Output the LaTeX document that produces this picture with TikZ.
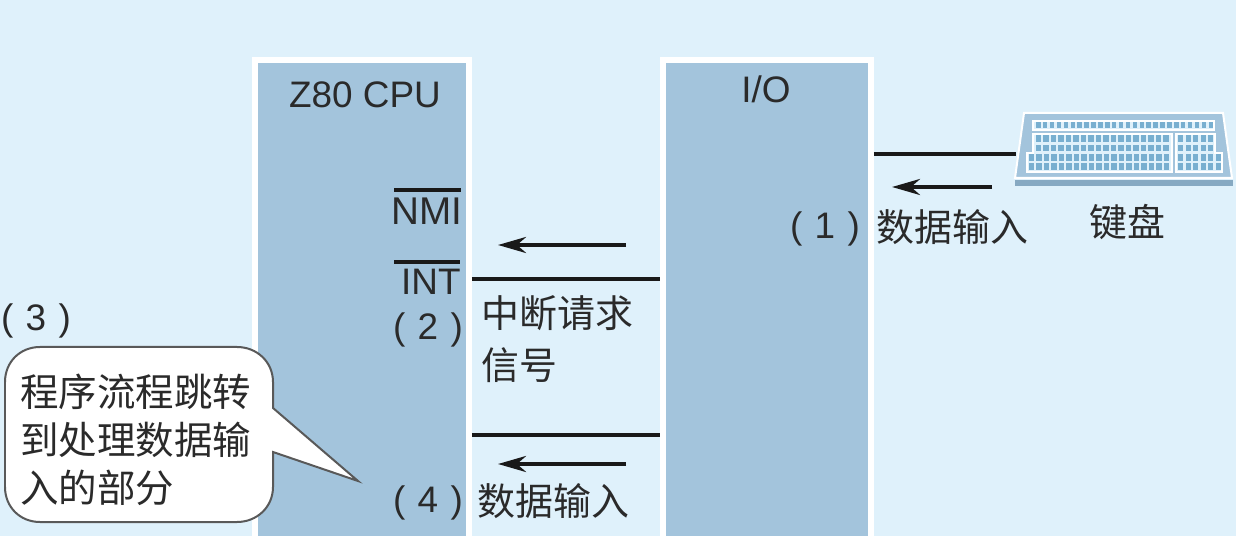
\documentclass[tikz,border=0pt]{standalone}
\usepackage{fontspec}
\setmainfont{Liberation Sans}
\newfontfamily\cjk{Noto Sans CJK SC}
\usetikzlibrary{arrows.meta}
\definecolor{pagebg}{HTML}{DFF1FB}
\definecolor{blockblue}{HTML}{A3C4DC}
\definecolor{keyblue}{HTML}{78AFD0}
\definecolor{basedark}{HTML}{86A9C2}
\definecolor{inkdark}{HTML}{2A2A2A}
\newcommand{\lblsize}{\fontsize{21}{27.3}\selectfont}
\newcommand{\cjksize}{\fontsize{21.6}{27.3}\selectfont}
\newcommand{\jumpsize}{\fontsize{21.9}{27.3}\selectfont}
\tikzset{
	block/.style={draw=white,line width=0.12cm,fill=blockblue,minimum height=9.9cm,inner sep=0pt},
	sigline/.style={line width=0.08cm,draw=black!90},
	sigarrow/.style={line width=0.085cm,draw=black!90,-{Stealth[length=0.56cm,width=0.32cm]}},
	pinbar/.style={line width=0.08cm,draw=black!90},
	lbl/.style={font=\lblsize,text=inkdark,inner sep=0pt},
	cjklbl/.style={font=\cjksize\cjk,text=inkdark,inner sep=0pt,align=left},
	keycap/.style={fill=keyblue,draw=none}
}
\begin{document}
\begin{tikzpicture}[x=0.02cm,y=-0.02cm]
	\useasboundingbox (0,0) rectangle (1236,536);
	\clip (0,0) rectangle (1236,536);
	\fill[pagebg] (0,0) rectangle (1236,536);

	% Blocks
	\node[block,minimum width=4.28cm,anchor=north] (cpu) at (362,57) {};
	\node[block,minimum width=4.16cm,anchor=north] (io) at (767,57) {};
	\node[lbl] (cpuname) at (365,95) {Z80 CPU};
	\node[lbl] (ioname) at (766,89) {I/O};

	% Keyboard
	\fill[blockblue,draw=white,line width=0.04cm] (1024,113) -- (1223,113) -- (1232,178) -- (1015,178) -- cycle;
	\fill[basedark] (1015,180) rectangle (1233,186);
	\draw[white,fill=pagebg,line width=0.03cm] (1033,121) rectangle (1214,130);
	\draw[white,fill=pagebg,line width=0.03cm] (1033,134) -- (1172,134) -- (1172,172) -- (1027,172) -- (1027,153) -- (1033,153) -- cycle;
	\draw[white,fill=pagebg,line width=0.03cm] (1176,134) -- (1215,134) -- (1215,153) -- (1222,153) -- (1222,172) -- (1176,172) -- cycle;
	\foreach \i in {0,...,25} \fill[keycap] (1036+6.9*\i,122.5) rectangle +(4.5,6);
	\foreach \r in {135.5,145} {
		\foreach \i in {0,...,17} \fill[keycap] (1035.5+7.5*\i,\r) rectangle +(5.5,6.5);
		\foreach \i in {0,...,4} \fill[keycap] (1178+7.5*\i,\r) rectangle +(5,6.5);
	}
	\foreach \r in {154.5,163.5} {
		\foreach \i in {0,...,18} \fill[keycap] (1028.5+7.5*\i,\r) rectangle +(5.5,6.5);
		\foreach \i in {0,...,5} \fill[keycap] (1178+7.5*\i,\r) rectangle +(5,6.5);
	}
	\node[cjklbl] (kbdname) at (1127,222) {键盘};

	% Signal lines
	\coordinate (kbdport) at (1016,154);
	\coordinate (introw) at (0,279);
	\coordinate (datarow) at (0,435);
	\draw[sigline] (io.east |- kbdport) -- (kbdport);
	\draw[sigline] (cpu.east |- introw) -- (io.west |- introw);
	\draw[sigline] (cpu.east |- datarow) -- (io.west |- datarow);

	% Flow arrows
	\coordinate (kbdfrom) at (992,187);
	\coordinate (kbdto) at (892,187);
	\coordinate (intfrom) at (626,245);
	\coordinate (intto) at (498,245);
	\coordinate (datafrom) at (626,464);
	\coordinate (datato) at (498,464);
	\draw[sigarrow] (kbdfrom) -- (kbdto);
	\draw[sigarrow] (intfrom) -- (intto);
	\draw[sigarrow] (datafrom) -- (datato);

	% Pins
	\node[lbl,font=\fontsize{22}{27.3}\selectfont,anchor=east] (nmi) at (463,211) {NMI};
	\node[lbl,anchor=east] (int) at (461,282) {INT};
	\draw[pinbar] (394,190) -- (461,190);
	\draw[pinbar] (394,262) -- (460,262);

	% Step labels
	\node[lbl] (stepone) at (825,229) {(\,\,1\,\,)};
	\node[lbl] (steptwo) at (428,330) {(\,\,2\,\,)};
	\node[lbl] (stepthree) at (36,321) {(\,\,3\,\,)};
	\node[lbl] (stepfour) at (428,503) {(\,\,4\,\,)};
	\node[cjklbl,anchor=west] (kbddata) at (876,227) {数据输入};
	\node[cjklbl,anchor=north west] (intreq) at (481,295) {中断请求\\[2.3pt]信号};
	\node[cjklbl,anchor=west] (cpudata) at (477,501) {数据输入};

	% Callout
	\draw[draw=black!65,fill=white,line width=0.04cm] (40,347) -- (237,347) .. controls (257,347) and (273,362) .. (273,382) -- (273,408) -- (358,481) -- (273,452) -- (273,487) .. controls (273,507) and (257,522) .. (237,522) -- (40,522) .. controls (20,522) and (5,507) .. (5,487) -- (5,382) .. controls (5,362) and (20,347) .. (40,347) -- cycle;
	\node[cjklbl,font=\jumpsize\cjk,anchor=north west] (jump) at (20,374) {程序流程跳转\\到处理数据输\\入的部分};
\end{tikzpicture}
\end{document}
